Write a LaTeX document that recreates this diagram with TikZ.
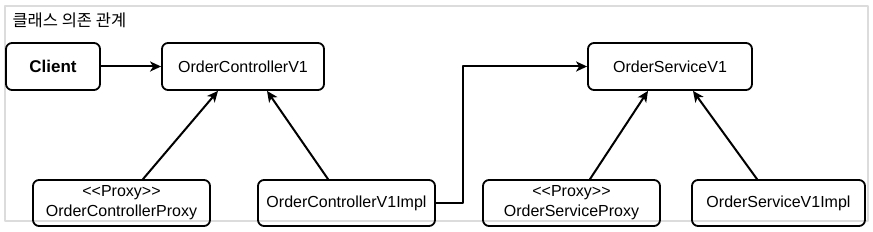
\documentclass[tikz,border=0pt]{standalone}
\usepackage{fontspec}
\setmainfont{Liberation Sans}
\newfontfamily\krfont{Noto Sans CJK KR}
\usepackage{tikz}
\usetikzlibrary{arrows.meta, calc, positioning}
\definecolor{frame-gray}{HTML}{DCDCDC}

\tikzset{
  classbox/.style={draw, line width=1.8pt, rounded corners=6pt, inner sep=0pt,
    align=center, font=\fontsize{16}{20}\selectfont},
  dep/.style={line width=2pt, -{Stealth[length=11pt, width=10pt, inset=3pt]}}
}

\begin{document}
\begin{tikzpicture}[x=1pt, y=-1pt, line cap=round, line join=round]
  \useasboundingbox (0,0) rectangle (873,232);
  \draw[frame-gray, line width=1.5pt] (5,6) rectangle (868,221);
  \node[anchor=west, font=\krfont\fontsize{16.5}{19}\selectfont] (title) at (9,20.5) {클래스 의존 관계};
  % controller side
  \node[classbox, minimum width=94pt, minimum height=47pt,
    font=\bfseries\fontsize{17}{20}\selectfont] (client) at (53,66.5) {Client};
  \node[classbox, minimum width=162pt, minimum height=47pt] (ocv1) at (243,66.5) {OrderControllerV1};
  \node[classbox, minimum width=177pt, minimum height=46pt] (ocproxy) at (121.5,203) {{<}{<}Proxy{>}{>}\\OrderControllerProxy};
  \node[classbox, minimum width=177pt, minimum height=46pt] (ocimpl) at (346.5,203) {OrderControllerV1Impl};
  % service side
  \node[classbox, minimum width=164pt, minimum height=47pt] (osv1) at (670,66.5) {OrderServiceV1};
  \node[classbox, minimum width=177pt, minimum height=46pt] (osproxy) at (571.5,203) {{<}{<}Proxy{>}{>}\\OrderServiceProxy};
  \node[classbox, minimum width=173pt, minimum height=46pt] (osimpl) at (778.5,203) {OrderServiceV1Impl};
  % dependencies
  \draw[dep] (client) -- (ocv1);
  \draw[dep] ([xshift=21.5pt]ocproxy.north) -- ([xshift=-25pt]ocv1.south);
  \draw[dep] ([xshift=-18.5pt]ocimpl.north) -- ([xshift=24pt]ocv1.south);
  \draw[dep] (ocimpl.east) -- ++(27,0) |- (osv1.west);
  \draw[dep] ([xshift=18.5pt]osproxy.north) -- ([xshift=-22pt]osv1.south);
  \draw[dep] ([xshift=-21.5pt]osimpl.north) -- ([xshift=23pt]osv1.south);
\end{tikzpicture}
\end{document}
